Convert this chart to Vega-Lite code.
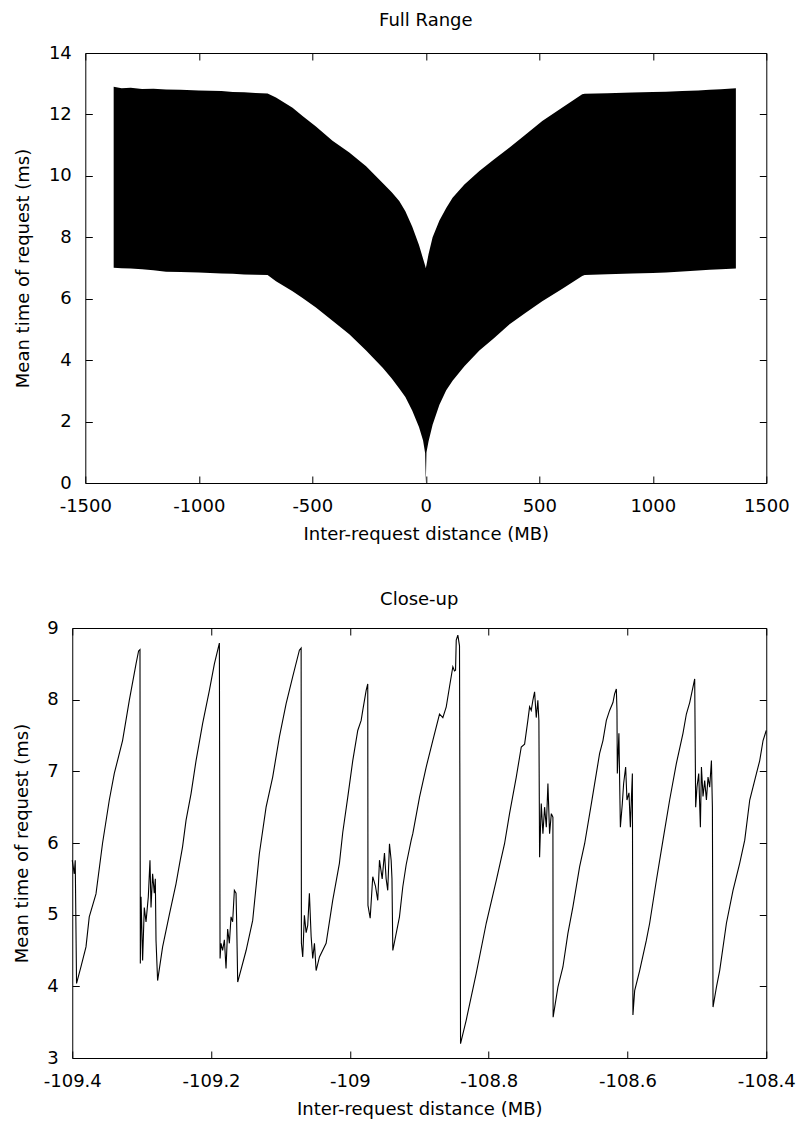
{
"$schema": "https://vega.github.io/schema/vega-lite/v6.json",
"padding": {"left": 12, "top": 11, "right": 5, "bottom": 5},
"background": "white",
"spacing": 46,
"columns": 1,
"center": true,
"datasets": {
"full": [
{"x":-1375,"upper":12.9,"lower":7.01},{"x":-1340,"upper":12.85,"lower":6.99},{"x":-1300,"upper":12.87,"lower":6.98},{"x":-1250,"upper":12.83,"lower":6.96},{"x":-1200,"upper":12.84,"lower":6.93},{"x":-1144,"upper":12.81,"lower":6.88},{"x":-1080,"upper":12.8,"lower":6.87},{"x":-1000,"upper":12.78,"lower":6.85},{"x":-950,"upper":12.77,"lower":6.84},{"x":-900,"upper":12.76,"lower":6.82},{"x":-850,"upper":12.73,"lower":6.81},{"x":-800,"upper":12.72,"lower":6.79},{"x":-750,"upper":12.7,"lower":6.78},{"x":-697,"upper":12.68,"lower":6.77},{"x":-660,"upper":12.55,"lower":6.57},{"x":-587,"upper":12.22,"lower":6.24},{"x":-543,"upper":11.95,"lower":6.02},{"x":-484,"upper":11.61,"lower":5.71},{"x":-411,"upper":11.14,"lower":5.28},{"x":-337,"upper":10.76,"lower":4.84},{"x":-263,"upper":10.31,"lower":4.31},{"x":-190,"upper":9.77,"lower":3.75},{"x":-150,"upper":9.47,"lower":3.4},{"x":-117,"upper":9.18,"lower":3.08},{"x":-90,"upper":8.85,"lower":2.8},{"x":-60,"upper":8.35,"lower":2.36},{"x":-30,"upper":7.75,"lower":1.82},{"x":-12,"upper":7.3,"lower":1.38},{"x":-3,"upper":7.08,"lower":0.98},{"x":0,"upper":7.0,"lower":0},{"x":3,"upper":7.1,"lower":1.0},{"x":12,"upper":7.45,"lower":1.35},{"x":30,"upper":8.0,"lower":1.9},{"x":60,"upper":8.55,"lower":2.55},{"x":90,"upper":8.95,"lower":3.02},{"x":118,"upper":9.29,"lower":3.33},{"x":170,"upper":9.72,"lower":3.8},{"x":236,"upper":10.16,"lower":4.31},{"x":300,"upper":10.53,"lower":4.71},{"x":369,"upper":10.92,"lower":5.17},{"x":440,"upper":11.35,"lower":5.54},{"x":513,"upper":11.79,"lower":5.92},{"x":600,"upper":12.22,"lower":6.32},{"x":689,"upper":12.66,"lower":6.74},{"x":700,"upper":12.67,"lower":6.77},{"x":800,"upper":12.69,"lower":6.8},{"x":909,"upper":12.71,"lower":6.82},{"x":1000,"upper":12.73,"lower":6.84},{"x":1058,"upper":12.74,"lower":6.85},{"x":1130,"upper":12.76,"lower":6.89},{"x":1200,"upper":12.78,"lower":6.92},{"x":1250,"upper":12.8,"lower":6.94},{"x":1300,"upper":12.82,"lower":6.96},{"x":1366,"upper":12.85,"lower":6.98}
],
"close": [
{"x":-109.4,"t":5.76},{"x":-109.3971,"t":5.57},{"x":-109.3957,"t":5.76},{"x":-109.3938,"t":4.04},{"x":-109.3875,"t":4.27},{"x":-109.3802,"t":4.55},{"x":-109.3755,"t":4.97},{"x":-109.3658,"t":5.29},{"x":-109.3563,"t":6.0},{"x":-109.3466,"t":6.6},{"x":-109.3394,"t":6.97},{"x":-109.3275,"t":7.43},{"x":-109.3178,"t":7.99},{"x":-109.3081,"t":8.5},{"x":-109.3044,"t":8.68},{"x":-109.3024,"t":8.7},{"x":-109.3019,"t":4.32},{"x":-109.3009,"t":5.25},{"x":-109.2986,"t":4.36},{"x":-109.2962,"t":5.1},{"x":-109.2937,"t":4.9},{"x":-109.2904,"t":5.25},{"x":-109.288,"t":5.76},{"x":-109.2865,"t":5.1},{"x":-109.2842,"t":5.57},{"x":-109.2818,"t":5.3},{"x":-109.2803,"t":5.5},{"x":-109.2793,"t":4.64},{"x":-109.277,"t":4.08},{"x":-109.2698,"t":4.55},{"x":-109.2601,"t":5.0},{"x":-109.2505,"t":5.43},{"x":-109.241,"t":5.95},{"x":-109.236,"t":6.32},{"x":-109.2288,"t":6.69},{"x":-109.2216,"t":7.15},{"x":-109.2121,"t":7.67},{"x":-109.2024,"t":8.13},{"x":-109.1952,"t":8.5},{"x":-109.188,"t":8.79},{"x":-109.187,"t":4.39},{"x":-109.1856,"t":4.6},{"x":-109.1833,"t":4.5},{"x":-109.1808,"t":4.65},{"x":-109.1784,"t":4.25},{"x":-109.1761,"t":4.8},{"x":-109.1736,"t":4.6},{"x":-109.1712,"t":4.97},{"x":-109.1689,"t":4.9},{"x":-109.1664,"t":5.34},{"x":-109.164,"t":5.3},{"x":-109.1631,"t":4.9},{"x":-109.1616,"t":4.06},{"x":-109.1495,"t":4.5},{"x":-109.14,"t":4.92},{"x":-109.1304,"t":5.85},{"x":-109.1207,"t":6.5},{"x":-109.1112,"t":6.92},{"x":-109.1015,"t":7.48},{"x":-109.0919,"t":7.94},{"x":-109.0823,"t":8.32},{"x":-109.0727,"t":8.69},{"x":-109.0702,"t":8.72},{"x":-109.0698,"t":4.6},{"x":-109.0679,"t":4.41},{"x":-109.0655,"t":4.99},{"x":-109.063,"t":4.75},{"x":-109.0607,"t":4.85},{"x":-109.0583,"t":5.3},{"x":-109.0558,"t":4.7},{"x":-109.0535,"t":4.39},{"x":-109.051,"t":4.6},{"x":-109.0486,"t":4.22},{"x":-109.0438,"t":4.41},{"x":-109.0342,"t":4.6},{"x":-109.0247,"t":5.2},{"x":-109.015,"t":5.72},{"x":-109.0102,"t":6.15},{"x":-109.003,"t":6.64},{"x":-108.9958,"t":7.15},{"x":-108.9886,"t":7.57},{"x":-108.9837,"t":7.71},{"x":-108.9814,"t":7.85},{"x":-108.9765,"t":8.13},{"x":-108.9742,"t":8.22},{"x":-108.9739,"t":5.13},{"x":-108.9707,"t":4.95},{"x":-108.967,"t":5.53},{"x":-108.9631,"t":5.4},{"x":-108.9598,"t":5.2},{"x":-108.9573,"t":5.76},{"x":-108.9534,"t":5.5},{"x":-108.9501,"t":5.86},{"x":-108.9477,"t":5.5},{"x":-108.9454,"t":5.34},{"x":-108.9429,"t":5.99},{"x":-108.9405,"t":5.76},{"x":-108.9393,"t":5.5},{"x":-108.9381,"t":4.5},{"x":-108.9285,"t":4.97},{"x":-108.9237,"t":5.39},{"x":-108.9188,"t":5.7},{"x":-108.9116,"t":6.04},{"x":-108.9093,"t":6.13},{"x":-108.8996,"t":6.64},{"x":-108.89,"t":7.06},{"x":-108.8805,"t":7.43},{"x":-108.8708,"t":7.8},{"x":-108.866,"t":7.75},{"x":-108.8611,"t":7.9},{"x":-108.8564,"t":8.18},{"x":-108.8516,"t":8.46},{"x":-108.8492,"t":8.4},{"x":-108.8477,"t":8.41},{"x":-108.8467,"t":8.83},{"x":-108.8444,"t":8.9},{"x":-108.842,"t":8.75},{"x":-108.8405,"t":3.2},{"x":-108.8323,"t":3.53},{"x":-108.8179,"t":4.18},{"x":-108.8035,"t":4.88},{"x":-108.789,"t":5.48},{"x":-108.7771,"t":5.99},{"x":-108.7699,"t":6.41},{"x":-108.7602,"t":6.92},{"x":-108.753,"t":7.34},{"x":-108.7482,"t":7.38},{"x":-108.7435,"t":7.71},{"x":-108.741,"t":7.9},{"x":-108.7386,"t":7.85},{"x":-108.7363,"t":7.99},{"x":-108.7338,"t":8.11},{"x":-108.7314,"t":7.75},{"x":-108.7291,"t":7.99},{"x":-108.7276,"t":7.71},{"x":-108.7266,"t":5.8},{"x":-108.7242,"t":6.55},{"x":-108.7218,"t":6.13},{"x":-108.7194,"t":6.5},{"x":-108.7169,"t":6.22},{"x":-108.7146,"t":6.83},{"x":-108.7122,"t":6.13},{"x":-108.7097,"t":6.41},{"x":-108.7074,"t":6.36},{"x":-108.7071,"t":3.57},{"x":-108.7002,"t":3.99},{"x":-108.693,"t":4.27},{"x":-108.6858,"t":4.74},{"x":-108.6786,"t":5.11},{"x":-108.6689,"t":5.67},{"x":-108.6617,"t":5.99},{"x":-108.652,"t":6.55},{"x":-108.6401,"t":7.25},{"x":-108.6353,"t":7.43},{"x":-108.6304,"t":7.71},{"x":-108.6257,"t":7.85},{"x":-108.6209,"t":7.96},{"x":-108.6185,"t":8.08},{"x":-108.616,"t":8.15},{"x":-108.6151,"t":7.85},{"x":-108.6146,"t":6.97},{"x":-108.6123,"t":7.53},{"x":-108.6102,"t":6.22},{"x":-108.6074,"t":6.55},{"x":-108.6055,"t":6.83},{"x":-108.6026,"t":7.06},{"x":-108.6007,"t":6.6},{"x":-108.5978,"t":6.7},{"x":-108.5958,"t":6.22},{"x":-108.5944,"t":6.6},{"x":-108.5929,"t":6.97},{"x":-108.5921,"t":3.6},{"x":-108.5896,"t":3.94},{"x":-108.5824,"t":4.22},{"x":-108.5728,"t":4.64},{"x":-108.568,"t":4.88},{"x":-108.5583,"t":5.48},{"x":-108.5488,"t":6.04},{"x":-108.5392,"t":6.6},{"x":-108.5295,"t":7.11},{"x":-108.52,"t":7.53},{"x":-108.5151,"t":7.8},{"x":-108.5103,"t":7.96},{"x":-108.5031,"t":8.29},{"x":-108.5017,"t":6.5},{"x":-108.4998,"t":6.78},{"x":-108.4973,"t":6.97},{"x":-108.4949,"t":6.22},{"x":-108.4934,"t":7.06},{"x":-108.4911,"t":6.65},{"x":-108.4887,"t":6.87},{"x":-108.4862,"t":6.6},{"x":-108.4839,"t":6.92},{"x":-108.4815,"t":6.78},{"x":-108.479,"t":7.15},{"x":-108.4776,"t":6.5},{"x":-108.4767,"t":3.71},{"x":-108.4718,"t":3.99},{"x":-108.4671,"t":4.22},{"x":-108.4574,"t":4.88},{"x":-108.4479,"t":5.34},{"x":-108.4382,"t":5.72},{"x":-108.431,"t":6.04},{"x":-108.4238,"t":6.6},{"x":-108.4141,"t":6.97},{"x":-108.4094,"t":7.15},{"x":-108.4046,"t":7.43},{"x":-108.4,"t":7.57}
]
},
"config": {
  "font": "DejaVu Sans",
  "view": {"stroke": "#000", "strokeWidth": 1},
  "axis": {"labelFont": "DejaVu Sans", "labelFontSize": 18, "labelColor": "#000", "titleFont": "DejaVu Sans", "titleFontSize": 18, "titleFontWeight": "normal", "titleColor": "#000", "tickColor": "#000", "tickSize": -7, "tickWidth": 1, "domain": false, "grid": false, "minExtent": 0, "labelPadding": 21, "labelFlush": false, "labelOverlap": false},
  "title": {"font": "DejaVu Sans", "fontSize": 18, "fontWeight": "normal", "color": "#000", "anchor": "middle"}
},
"concat": [
  {
    "title": {"text": "Full Range", "offset": 14},
    "width": 681, "height": 430,
    "data": {"name": "full"},
    "layer": [
      {
        "mark": {"type": "area", "color": "#000", "opacity": 1},
        "encoding": {
          "x": {"field": "x", "type": "quantitative", "scale": {"domain": [-1500, 1500], "nice": false},
                "axis": {"values": [-1500, -1000, -500, 0, 500, 1000, 1500], "labelExpr": "'' + datum.value", "title": "Inter-request distance (MB)", "titlePadding": 10}},
          "y": {"field": "upper", "type": "quantitative", "scale": {"domain": [0, 14], "nice": false, "zero": false},
                "axis": {"values": [0, 2, 4, 6, 8, 10, 12, 14], "labelExpr": "'' + datum.value", "title": "Mean time of request (ms)", "titlePadding": 16}},
          "y2": {"field": "lower"}
        }
      },
      {
        "mark": {"type": "point", "opacity": 0},
        "encoding": {
          "x": {"field": "x", "type": "quantitative", "axis": {"orient": "top", "values": [-1500, -1000, -500, 0, 500, 1000, 1500], "labels": false, "title": null}},
          "y": {"field": "upper", "type": "quantitative", "axis": {"orient": "right", "values": [0, 2, 4, 6, 8, 10, 12, 14], "labels": false, "title": null}}
        }
      }
    ],
    "resolve": {"axis": {"x": "independent", "y": "independent"}}
  },
  {
    "title": {"text": "Close-up", "offset": 10},
    "width": 694, "height": 430,
    "data": {"name": "close"},
    "layer": [
      {
        "mark": {"type": "line", "color": "#000", "strokeWidth": 1.1},
        "encoding": {
          "x": {"field": "x", "type": "quantitative", "scale": {"domain": [-109.4, -108.4], "nice": false, "zero": false},
                "axis": {"values": [-109.4, -109.2, -109, -108.8, -108.6, -108.4], "labelExpr": "'' + datum.value", "title": "Inter-request distance (MB)", "titlePadding": 10}},
          "y": {"field": "t", "type": "quantitative", "scale": {"domain": [3, 9], "nice": false, "zero": false},
                "axis": {"values": [3, 4, 5, 6, 7, 8, 9], "labelExpr": "'' + datum.value", "title": "Mean time of request (ms)", "titlePadding": 15.5}}
        }
      },
      {
        "mark": {"type": "point", "opacity": 0},
        "encoding": {
          "x": {"field": "x", "type": "quantitative", "axis": {"orient": "top", "values": [-109.4, -109.2, -109, -108.8, -108.6, -108.4], "labels": false, "title": null}},
          "y": {"field": "t", "type": "quantitative", "axis": {"orient": "right", "values": [3, 4, 5, 6, 7, 8, 9], "labels": false, "title": null, "minExtent": 36}}
        }
      }
    ],
    "resolve": {"axis": {"x": "independent", "y": "independent"}}
  }
]
}
